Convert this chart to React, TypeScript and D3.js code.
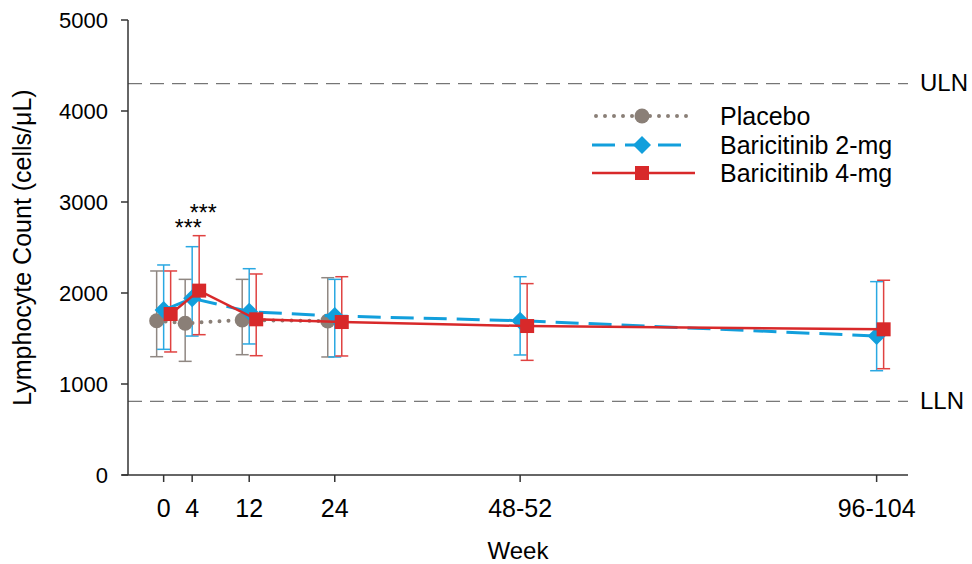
import React from 'react'
import * as d3 from 'd3'

// weeks (plot positions) and their labels
const weekLabels = ['0', '4', '12', '24', '48-52', '96-104']
const weekPos = [0, 4, 12, 24, 50, 100]

// lymphocyte counts (cells/uL)
const placeboMean = [1695, 1667, 1703, 1692]
const placeboLow = [1300, 1249, 1322, 1297]
const placeboHigh = [2242, 2150, 2150, 2168]

const bari2Mean = [1813, 1941, 1795, 1747, 1696, 1527]
const bari2Low = [1381, 1527, 1440, 1297, 1319, 1146]
const bari2High = [2308, 2509, 2267, 2150, 2179, 2125]

const bari4Mean = [1769, 2026, 1711, 1681, 1637, 1601]
const bari4Low = [1352, 1542, 1311, 1308, 1260, 1168]
const bari4High = [2242, 2630, 2209, 2179, 2103, 2140]

const yTicks = [0, 1000, 2000, 3000, 4000, 5000]
const ULN = 4300
const LLN = 810

const FONT = 'Liberation Sans, Arial, sans-serif'

const App = () => {
  const width = 972
  const height = 564
  const left = 128
  const right = 908
  const top = 20
  const bottom = 475

  const x = d3.scaleLinear().domain([-5, 104.4]).range([left, right])
  const y = d3.scaleLinear().domain([0, 5000]).range([bottom, top])

  const series = [
    {
      name: 'Placebo', mean: placeboMean, lo: placeboLow, hi: placeboHigh,
      color: '#8a7f77', barColor: '#8f8782', dx: -7, dash: '0,9', sw: 4, cap: 'round', marker: 'circle',
    },
    {
      name: 'Baricitinib 2-mg', mean: bari2Mean, lo: bari2Low, hi: bari2High,
      color: '#129fdc', barColor: '#2aa8e2', dx: 0, dash: '23,10', sw: 3, cap: 'butt', marker: 'diamond',
    },
    {
      name: 'Baricitinib 4-mg', mean: bari4Mean, lo: bari4Low, hi: bari4High,
      color: '#d8292a', barColor: '#e04241', dx: 7, dash: null, sw: 2.5, cap: 'butt', marker: 'square',
    },
  ]

  const marker = (kind: string, cx: number, cy: number, color: string, key?: any) => {
    if (kind === 'circle') return <circle key={key} cx={cx} cy={cy} r={7.5} fill={color} />
    if (kind === 'diamond') {
      const s = 9
      return <path key={key} d={`M${cx},${cy - s}L${cx + s},${cy}L${cx},${cy + s}L${cx - s},${cy}Z`} fill={color} />
    }
    return <rect key={key} x={cx - 7} y={cy - 7} width={14} height={14} fill={color} />
  }

  const legendY = [116, 145, 173]

  return (
    <div style={{ position: 'absolute', left: 0, top: 0 }}>
      <svg width={width} height={height} style={{ display: 'block', fontFamily: FONT }}>
        <rect width={width} height={height} fill="#fff" />

        {/* reference lines */}
        {[ULN, LLN].map((v, i) => (
          <g key={i}>
            <line x1={left} x2={right} y1={y(v)} y2={y(v)} stroke="#555" strokeWidth={1} strokeDasharray="14,8" />
            <text x={920} y={y(v) + 7.5} fontSize={24} fill="#000">{i === 0 ? 'ULN' : 'LLN'}</text>
          </g>
        ))}

        {/* axes */}
        <line x1={left} x2={left} y1={top} y2={bottom} stroke="#333" strokeWidth={1.5} />
        <line x1={left - 6} x2={right} y1={bottom} y2={bottom} stroke="#333" strokeWidth={1.5} />
        {yTicks.map(t => (
          <g key={t}>
            <line x1={left - 7} x2={left} y1={y(t)} y2={y(t)} stroke="#333" strokeWidth={1.5} />
            <text x={108} y={y(t) + 8} fontSize={22} textAnchor="end" fill="#000">{t}</text>
          </g>
        ))}
        {weekPos.map((w, i) => (
          <g key={w}>
            <line x1={x(w)} x2={x(w)} y1={bottom} y2={bottom + 7} stroke="#333" strokeWidth={1.5} />
            <text x={x(w)} y={517} fontSize={25} textAnchor="middle" fill="#000">{weekLabels[i]}</text>
          </g>
        ))}
        <text x={518} y={559} fontSize={24} textAnchor="middle" fill="#000">Week</text>
        <text transform={`translate(31,${(top + bottom) / 2}) rotate(-90)`} fontSize={25} textAnchor="middle" fill="#000">
          Lymphocyte Count (cells/μL)
        </text>

        {/* error bars */}
        {series.map(s => (
          <g key={s.name + 'err'}>
            {s.mean.map((_, i) => {
              const cx = x(weekPos[i]) + s.dx
              return (
                <g key={i} stroke={s.barColor} strokeWidth={1.5}>
                  <line x1={cx} x2={cx} y1={y(s.lo[i])} y2={y(s.hi[i])} />
                  <line x1={cx - 6.5} x2={cx + 6.5} y1={y(s.lo[i])} y2={y(s.lo[i])} />
                  <line x1={cx - 6.5} x2={cx + 6.5} y1={y(s.hi[i])} y2={y(s.hi[i])} />
                </g>
              )
            })}
          </g>
        ))}

        {/* lines and markers */}
        {series.map(s => {
          const line = d3.line<number>()
            .x((_, i) => x(weekPos[i]) + s.dx)
            .y(d => y(d))
          return (
            <g key={s.name}>
              <path d={line(s.mean) || ''} fill="none" stroke={s.color} strokeWidth={s.sw}
                strokeDasharray={s.dash || undefined} strokeLinecap={s.cap as any} />
              {s.mean.map((d, i) => marker(s.marker, x(weekPos[i]) + s.dx, y(d), s.color, i))}
            </g>
          )
        })}

        {/* significance */}
        <text x={x(weekPos[1]) + series[1].dx - 4} y={y(bari2High[1]) - 11} fontSize={23} textAnchor="middle" fill="#000">***</text>
        <text x={x(weekPos[1]) + series[2].dx + 4} y={y(bari4High[1]) - 15} fontSize={23} textAnchor="middle" fill="#000">***</text>

        {/* legend */}
        {series.map((s, i) => (
          <g key={s.name + 'leg'}>
            <line x1={s.cap === 'round' ? 596 : 592} x2={s.dash && s.cap !== 'round' ? 683 : 695} y1={legendY[i]} y2={legendY[i]} stroke={s.color}
              strokeWidth={s.sw} strokeDasharray={s.dash || undefined} strokeLinecap={s.cap as any} />
            {marker(s.marker, 642, legendY[i], s.color)}
            <text x={720} y={legendY[i] + 9} fontSize={25} fill="#000">{s.name}</text>
          </g>
        ))}
      </svg>
    </div>
  )
}

export default App
